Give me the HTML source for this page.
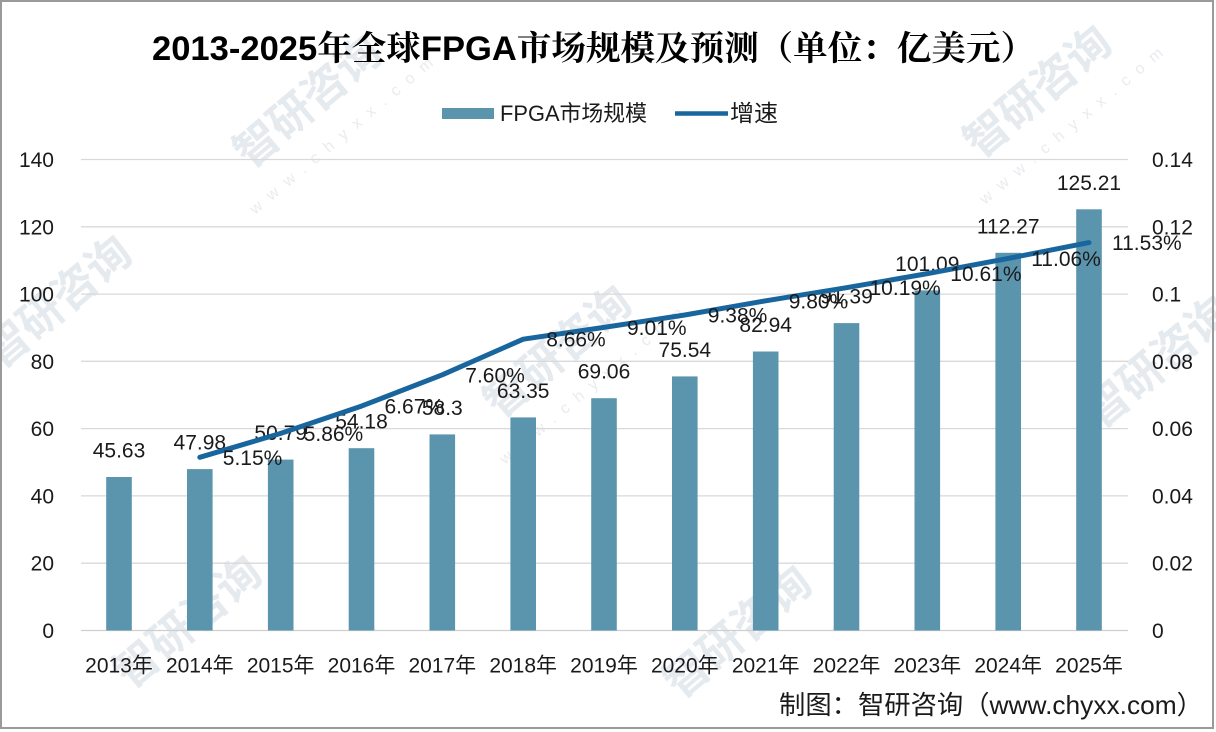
<!DOCTYPE html>
<html>
<head>
<meta charset="utf-8">
<style>
html,body{margin:0;padding:0;background:#fff;}
svg{display:block;}
text{font-family:"Liberation Sans","Noto Sans CJK SC",sans-serif;fill:#1a1a1a;}
.t{font-family:"Liberation Sans","Noto Serif CJK SC",serif;font-weight:bold;fill:#000;}
.wm{font-family:"Noto Sans CJK SC",sans-serif;fill:#e3e8ee;font-weight:bold;}
.wms{font-family:"Liberation Sans",sans-serif;fill:#e6e9ee;}
</style>
</head>
<body>
<svg width="1216" height="732" viewBox="0 0 1216 732" xmlns="http://www.w3.org/2000/svg">
<rect x="0" y="0" width="1216" height="732" fill="#fff"/>

<!-- faint watermarks -->
<g opacity="0.9">
<text class="wm" font-size="44" transform="translate(250,170) rotate(-40)">智研咨询</text>
<text class="wms" font-size="16" letter-spacing="10" transform="translate(255,215) rotate(-40)">www.chyxx.com</text>
<text class="wm" font-size="44" transform="translate(980,160) rotate(-40)">智研咨询</text>
<text class="wms" font-size="16" letter-spacing="10" transform="translate(985,205) rotate(-40)">www.chyxx.com</text>
<text class="wm" font-size="44" transform="translate(500,420) rotate(-40)">智研咨询</text>
<text class="wms" font-size="16" letter-spacing="10" transform="translate(505,465) rotate(-40)">www.chyxx.com</text>
<text class="wm" font-size="44" transform="translate(130,690) rotate(-40)">智研咨询</text>
<text class="wm" font-size="44" transform="translate(680,700) rotate(-40)">智研咨询</text>
<text class="wm" font-size="44" transform="translate(0,370) rotate(-40)">智研咨询</text>
<text class="wm" font-size="44" transform="translate(1100,430) rotate(-40)">智研咨询</text>
</g>

<!-- gridlines -->
<g stroke="#d9d9d9" stroke-width="1.3">
<line x1="81" x2="1128" y1="159.5" y2="159.5"/>
<line x1="81" x2="1128" y1="226.8" y2="226.8"/>
<line x1="81" x2="1128" y1="294.1" y2="294.1"/>
<line x1="81" x2="1128" y1="361.3" y2="361.3"/>
<line x1="81" x2="1128" y1="428.6" y2="428.6"/>
<line x1="81" x2="1128" y1="495.9" y2="495.9"/>
<line x1="81" x2="1128" y1="563.2" y2="563.2"/>
<line x1="81" x2="1128" y1="630.5" y2="630.5" stroke="#cfcfcf"/>
</g>

<!-- left axis labels -->
<g font-size="21" text-anchor="end">
<text x="54" y="167">140</text>
<text x="54" y="234.3">120</text>
<text x="54" y="301.6">100</text>
<text x="54" y="368.8">80</text>
<text x="54" y="436.1">60</text>
<text x="54" y="503.4">40</text>
<text x="54" y="570.7">20</text>
<text x="54" y="638">0</text>
</g>
<!-- right axis labels -->
<g font-size="21">
<text x="1152" y="167">0.14</text>
<text x="1152" y="234.3">0.12</text>
<text x="1152" y="301.6">0.1</text>
<text x="1152" y="368.8">0.08</text>
<text x="1152" y="436.1">0.06</text>
<text x="1152" y="503.4">0.04</text>
<text x="1152" y="570.7">0.02</text>
<text x="1152" y="638">0</text>
</g>

<!-- bars -->
<g fill="#5b95ad">
<rect x="106.2" y="477.0" width="25.6" height="153.5"/>
<rect x="187.0" y="469.1" width="25.6" height="161.4"/>
<rect x="267.9" y="459.6" width="25.6" height="170.9"/>
<rect x="348.7" y="448.2" width="25.6" height="182.3"/>
<rect x="429.5" y="434.4" width="25.6" height="196.1"/>
<rect x="510.4" y="417.4" width="25.6" height="213.1"/>
<rect x="591.2" y="398.2" width="25.6" height="232.3"/>
<rect x="672.0" y="376.4" width="25.6" height="254.1"/>
<rect x="752.9" y="351.5" width="25.6" height="279.0"/>
<rect x="833.7" y="323.1" width="25.6" height="307.4"/>
<rect x="914.5" y="290.4" width="25.6" height="340.1"/>
<rect x="995.4" y="252.8" width="25.6" height="377.7"/>
<rect x="1076.2" y="209.3" width="25.6" height="421.2"/>
</g>

<!-- bar labels -->
<g font-size="21" text-anchor="middle">
<text x="119" y="457.5">45.63</text>
<text x="199.8" y="449.6">47.98</text>
<text x="280.7" y="440.1">50.79</text>
<text x="361.5" y="428.7">54.18</text>
<text x="442.3" y="414.9">58.3</text>
<text x="523.2" y="397.9">63.35</text>
<text x="604" y="378.7">69.06</text>
<text x="684.8" y="356.9">75.54</text>
<text x="765.7" y="332">82.94</text>
<text x="846.5" y="303.6">91.39</text>
<text x="927.3" y="270.9">101.09</text>
<text x="1008.2" y="233.3">112.27</text>
<text x="1089" y="189.8">125.21</text>
</g>

<!-- growth line -->
<polyline fill="none" stroke="#19669e" stroke-width="5" stroke-linejoin="round" stroke-linecap="round"
points="199.8,457.3 280.7,433.4 361.5,406.1 442.3,374.8 523.2,339.2 604,327.4 684.8,315.0 765.7,300.8 846.5,287.7 927.3,273.6 1008.2,258.4 1089,242.6"/>

<!-- growth labels -->
<g font-size="21">
<text x="222.8" y="464.8">5.15%</text>
<text x="303.7" y="440.9">5.86%</text>
<text x="384.5" y="413.6">6.67%</text>
<text x="465.3" y="382.3">7.60%</text>
<text x="546.2" y="346.7">8.66%</text>
<text x="627" y="334.9">9.01%</text>
<text x="707.8" y="322.5">9.38%</text>
<text x="788.7" y="308.3">9.80%</text>
<text x="869.5" y="295.2">10.19%</text>
<text x="950.3" y="281.1">10.61%</text>
<text x="1031.2" y="265.9">11.06%</text>
<text x="1112" y="250.1">11.53%</text>
</g>

<!-- x labels -->
<g font-size="21" text-anchor="middle">
<text x="119" y="672.5">2013年</text>
<text x="199.8" y="672.5">2014年</text>
<text x="280.7" y="672.5">2015年</text>
<text x="361.5" y="672.5">2016年</text>
<text x="442.3" y="672.5">2017年</text>
<text x="523.2" y="672.5">2018年</text>
<text x="604" y="672.5">2019年</text>
<text x="684.8" y="672.5">2020年</text>
<text x="765.7" y="672.5">2021年</text>
<text x="846.5" y="672.5">2022年</text>
<text x="927.3" y="672.5">2023年</text>
<text x="1008.2" y="672.5">2024年</text>
<text x="1089" y="672.5">2025年</text>
</g>

<!-- title -->
<text class="t" x="152" y="60" font-size="34" textLength="883" lengthAdjust="spacingAndGlyphs">2013-2025年全球FPGA市场规模及预测（单位：亿美元）</text>

<!-- legend -->
<rect x="442" y="108" width="52" height="11" fill="#5b95ad"/>
<text x="500" y="121" font-size="22" textLength="147" lengthAdjust="spacingAndGlyphs">FPGA市场规模</text>
<line x1="675" y1="113.5" x2="728" y2="113.5" stroke="#19669e" stroke-width="4.5"/>
<text x="730" y="121" font-size="23" textLength="48" lengthAdjust="spacingAndGlyphs">增速</text>

<!-- footer -->
<text x="779" y="714" font-size="26" fill="#222" textLength="424" lengthAdjust="spacingAndGlyphs">制图：智研咨询（www.chyxx.com）</text>

<!-- border -->
<rect x="1" y="1" width="1212" height="727" fill="none" stroke="#9a9a9a" stroke-width="2"/>
</svg>
</body>
</html>
